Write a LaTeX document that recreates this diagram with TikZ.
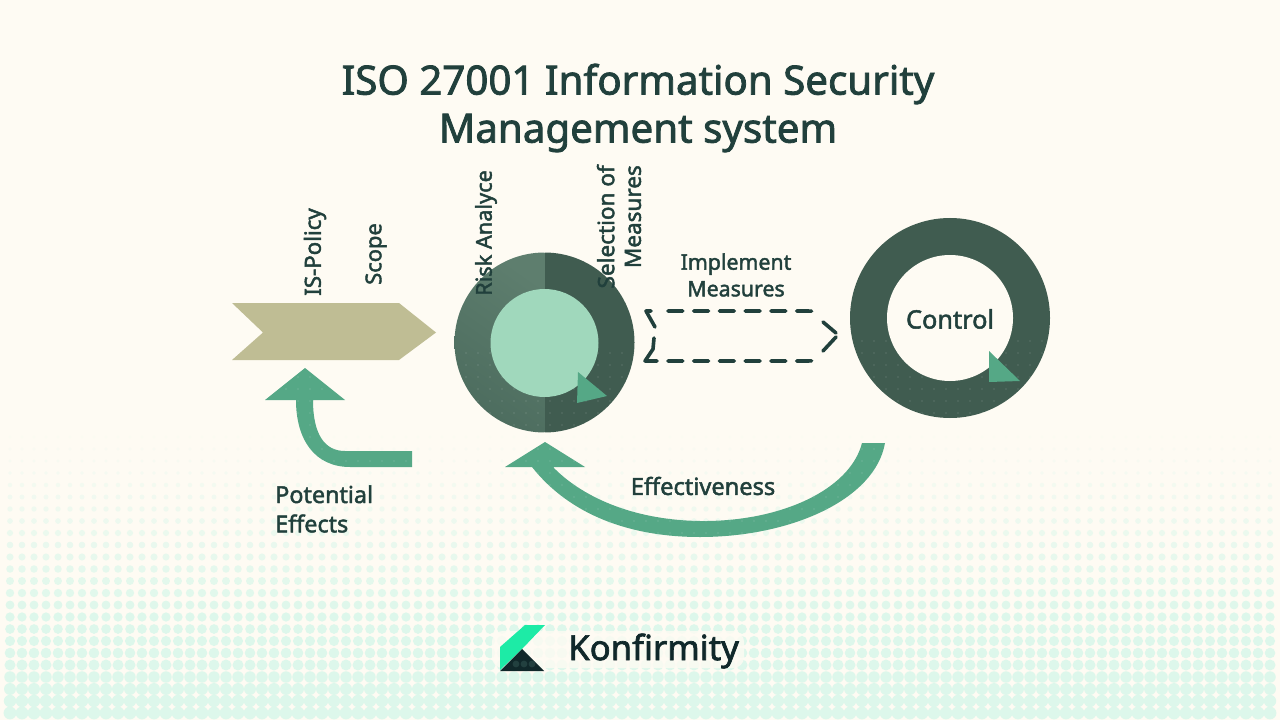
\documentclass[tikz,border=0pt]{standalone}
\usepackage{fontspec}
\setmainfont{Noto Sans}
\definecolor{bg}{HTML}{FEFBF3}
\definecolor{ink}{HTML}{21403C}
\definecolor{dotc}{HTML}{DDF7EB}
\definecolor{tanc}{HTML}{BFBD94}
\definecolor{arrowg}{HTML}{55A886}
\definecolor{ringd}{HTML}{405C50}
\definecolor{ringl}{HTML}{5E7E6E}
\definecolor{ringm}{HTML}{4C6C5E}
\definecolor{mint}{HTML}{A0D8BC}
\definecolor{kgreen}{HTML}{1DEBA6}
\definecolor{kdark}{HTML}{10282A}
\definecolor{kdot}{HTML}{22403F}
\newcommand{\fsz}[2]{\fontsize{#1}{#2}\selectfont\addfontfeature{FakeBold=2}}
% faint dots laid over the dark shapes: lowest y, next y, highest y
\newcommand{\gridover}[3]{%
  \foreach \yy in {#1,#2,...,#3}{\foreach \xx in {10,22,...,1270}{
    \fill[white,opacity=.09] (\xx,\yy) circle[radius=1.1];}}}
\tikzset{
  lab/.style={text=ink,align=left,inner sep=0pt},
  vlab/.style={lab,rotate=90,align=right},
  dashl/.style={ink,line width=2.7pt,line cap=round,line join=round}
}
\begin{document}
\begin{tikzpicture}[x=0.75pt,y=-0.75pt]
\useasboundingbox (0,0) rectangle (1280,720);
\fill[bg] (0,0) rectangle (1280,720);
% dot field
\foreach \r in {0,...,23}{
  \pgfmathsetmacro{\yy}{437+\r*12}
  \pgfmathsetmacro{\rad}{1.3+\r*0.222}
  \pgfmathtruncatemacro{\mixp}{min(100,10+\r*6)}
  \foreach \c in {0,...,105}{
    \fill[dotc!\mixp!bg] ({10+\c*12},\yy) circle[radius=\rad];
  }
}
\fill[bg,opacity=.8,rounded corners=8pt] (492,631) rectangle (744,668);
% title
\node[text=ink,font=\fsz{30.2}{36},align=center,inner sep=0pt] (title) at (638,108) {ISO 27001 Information Security\\Management system};
% tan chevron
\fill[tanc] (232,303) -- (399,303) -- (436,332.5) -- (399,360) -- (232,360) -- (263,332.5) -- cycle;
% risk circle
\begin{scope}
  \clip (544.5,342.5) circle[radius=90];
  \shade[top color=ringl,bottom color=ringm,shading angle=-35] (454,252) rectangle (544.5,433);
  \fill[ringd] (544.5,252) rectangle (636,433);
  \gridover{353}{365}{437}
\end{scope}
\fill[mint] (544.5,343) circle[radius=54];
\fill[arrowg] (578,372) -- (607,396) -- (577,403) -- cycle;
% control ring
\fill[ringd] (950,318) circle[radius=100];
\begin{scope}
  \clip (950,318) circle[radius=100];
  \gridover{341}{353}{425}
\end{scope}
\fill[bg] (950,318) circle[radius=63];
\fill[arrowg] (989,351) -- (1020,381) -- (989,382) -- cycle;
% dashed outline
\draw[dashl,dash pattern=on 11.2pt off 8.1pt]
  (668,311) -- (808,311) .. controls (813,311) and (816,312) .. (818,314)
  (668,361) -- (808,361) .. controls (813,361) and (816,360) .. (818,358);
\draw[dashl] (823,322) -- (836,333) (836,337) -- (823,351);
\draw[dashl] (651,311) -- (646,311) -- (655,327);
\draw[dashl] (654,338) -- (653,349) -- (645,361) -- (657,361);
% potential effects arrow
\begin{scope}
  \clip (305,368) -- (345,400) -- (313,400) .. controls (313,435) and (325,451) .. (345,451) -- (412,451) -- (412,467) -- (350,467) .. controls (315,467) and (296,440) .. (296,400) -- (265,400) -- cycle;
  \fill[arrowg] (260,360) rectangle (420,470);
  \gridover{377}{389}{461}
\end{scope}
% effectiveness arrow
\begin{scope}
  \clip (545,442) -- (585,467) -- (553,467) .. controls (580,495) and (630,520) .. (700,521)
  .. controls (780,522) and (850,490) .. (862,443) -- (885,443)
  .. controls (875,500) and (790,537) .. (700,537)
  .. controls (630,537) and (570,515) .. (532,467) -- (505,467) -- cycle;
  \fill[arrowg] (500,438) rectangle (890,540);
  \gridover{449}{461}{533}
\end{scope}
% labels
\node[vlab,font=\fsz{16.7}{20}] (ispol) at (315,252) {IS-Policy};
\node[vlab,font=\fsz{16.4}{20}] (scope) at (376,254) {Scope};
\node[vlab,font=\fsz{16.3}{20}] (risk) at (486,233) {Risk Analyce};
\node[vlab,font=\fsz{16.9}{20},anchor=east] (sel) at (619,165) {Selection of\\Measures};
\node[lab,font=\fsz{16}{20},align=center] (impl) at (736,275) {Implement\\Measures};
\node[lab,font=\fsz{19}{23}] (ctrl) at (950,319) {Control};
\node[lab,font=\fsz{17.7}{22}] (eff) at (703,486) {Effectiveness};
\node[lab,font=\fsz{17.5}{22},anchor=north west] (pot) at (275,485) {Potential\\Effects};
% logo
\fill[kgreen] (500,647) -- (525,625) -- (545,625) -- (522,649) -- (500,670) -- cycle;
\fill[kdark] (500,671) -- (522,649) -- (544,671) -- cycle;
\foreach \lx in {516,524,532}{\fill[kdot] (\lx,664) circle[radius=3.4];}
\node[anchor=west,inner sep=0pt,text=kdark,font=\fsz{26}{30}] (konf) at (568,651) {Konfirmity};
\end{tikzpicture}
\end{document}
